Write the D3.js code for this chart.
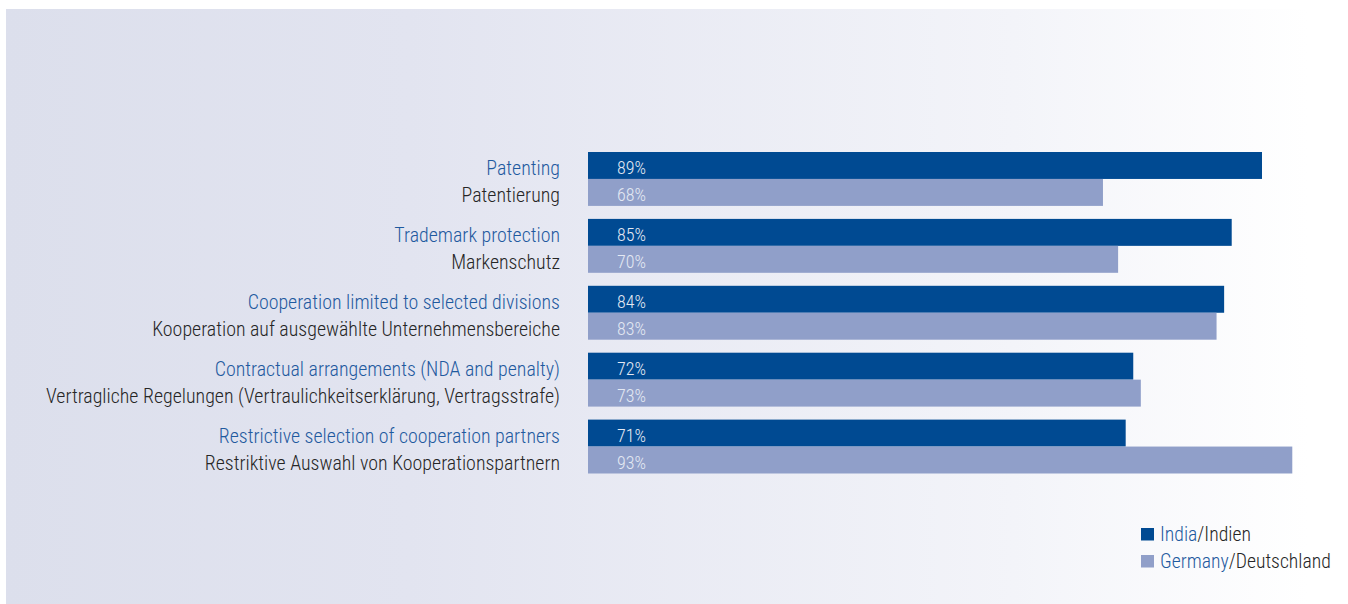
<!DOCTYPE html>
<html>
<head>
<meta charset="utf-8">
<script src="https://cdn.jsdelivr.net/npm/d3@7"></script>
<style>
  html, body { margin: 0; padding: 0; background: #ffffff; }
  svg { display: block; }
  text { font-family: "Liberation Sans Narrow", "Arial Narrow", "Roboto Condensed", sans-serif; font-weight: 300; }
</style>
</head>
<body>
<svg id="chart" width="1348" height="604"></svg>
<script>
// Protection measures: English / German category labels
const labelsEn = [
  "Patenting",
  "Trademark protection",
  "Cooperation limited to selected divisions",
  "Contractual arrangements (NDA and penalty)",
  "Restrictive selection of cooperation partners"
];
const labelsDe = [
  "Patentierung",
  "Markenschutz",
  "Kooperation auf ausgewählte Unternehmensbereiche",
  "Vertragliche Regelungen (Vertraulichkeitserklärung, Vertragsstrafe)",
  "Restriktive Auswahl von Kooperationspartnern"
];
// Share of respondents (%)
const india = [89, 85, 84, 72, 71];
const germany = [68, 70, 83, 73, 93];
const seriesNames = [["India", "/Indien"], ["Germany", "/Deutschland"]];

const W = 1348, H = 604;
const svg = d3.select("#chart");

// Background panel with a horizontal fade
const defs = svg.append("defs");
const grad = defs.append("linearGradient").attr("id", "bg").attr("x1", "0").attr("x2", "1").attr("y1", "0").attr("y2", "0");
grad.append("stop").attr("offset", "0").attr("stop-color", "#dcdfec");
grad.append("stop").attr("offset", "0.3").attr("stop-color", "#e2e4f0");
grad.append("stop").attr("offset", "0.75").attr("stop-color", "#f3f4f9");
grad.append("stop").attr("offset", "0.97").attr("stop-color", "#ffffff");
svg.append("rect").attr("x", 6).attr("y", 9).attr("width", W - 6).attr("height", H - 9).attr("fill", "url(#bg)");

const colIndia = "#004a92";
const colGermany = "#909fc9";
const blueText = "#1f5a9f";
const darkText = "#262626";

// Value scale and category bands (each band holds one India + one Germany bar)
const step = 66.9, gap = 13;
const x = d3.scaleLinear().domain([0, 100]).range([588, 1345.3]);
const y = d3.scaleBand().domain(d3.range(labelsEn.length))
  .range([152, 152 + step * labelsEn.length - gap]).paddingInner(gap / step).paddingOuter(0);
const barH = y.bandwidth() / 2;

const groups = svg.append("g").selectAll("g").data(d3.range(labelsEn.length)).join("g")
  .attr("transform", i => `translate(0,${y(i)})`);

groups.append("rect").attr("x", x(0)).attr("y", 0).attr("height", barH)
  .attr("width", i => x(india[i]) - x(0)).attr("fill", colIndia);
groups.append("rect").attr("x", x(0)).attr("y", barH).attr("height", barH)
  .attr("width", i => x(germany[i]) - x(0)).attr("fill", colGermany);

groups.append("text").attr("x", 617).attr("y", 22)
  .attr("font-size", 18).attr("fill", "#e4e9f3").text(i => india[i] + "%");
groups.append("text").attr("x", 617).attr("y", 49)
  .attr("font-size", 18).attr("fill", "#e4e9f3").text(i => germany[i] + "%");

groups.append("text").attr("x", 560).attr("y", 23).attr("text-anchor", "end")
  .attr("font-size", 19.9).attr("fill", blueText).text(i => labelsEn[i]);
groups.append("text").attr("x", 560).attr("y", 50).attr("text-anchor", "end")
  .attr("font-size", 19.9).attr("fill", darkText).text(i => labelsDe[i]);

// Legend
const legend = svg.append("g").selectAll("g").data(seriesNames).join("g")
  .attr("transform", (d, i) => `translate(1141,${528 + i * 27})`);
legend.append("rect").attr("width", 13).attr("height", 12.5).attr("fill", (d, i) => i === 0 ? colIndia : colGermany);
const lt = legend.append("text").attr("x", 19).attr("y", 12.5).attr("font-size", 19.7);
lt.append("tspan").attr("fill", blueText).text(d => d[0]);
lt.append("tspan").attr("fill", darkText).text(d => d[1]);
</script>
</body>
</html>
